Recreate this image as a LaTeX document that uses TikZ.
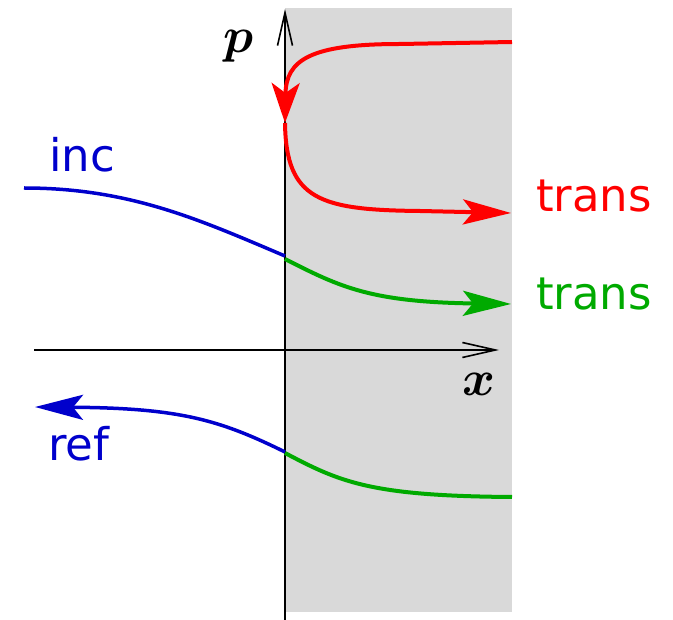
\RequirePackage{fix-cm}
\documentclass[tikz,border=0pt]{standalone}
\usepackage{fontspec}
\usepackage{amsmath,bm}
\newfontfamily\labfont{DejaVu Sans}
\usetikzlibrary{arrows.meta}
\definecolor{cblue}{RGB}{0,0,204}
\definecolor{cred}{RGB}{255,0,0}
\definecolor{cgreen}{RGB}{0,170,0}
\definecolor{cgray}{RGB}{217,217,217}
\begin{document}
\begin{tikzpicture}[x=1pt,y=-1pt,
  axisline/.style={line width=1.6pt,-{Straight Barb[length=33pt,width=15pt]}},
  curveline/.style={line width=4pt},
  blueline/.style={line width=3.5pt},
  headtip/.style={-{Stealth[length=48pt,width=25pt,inset=10pt]}},
  downtip/.style={-{Stealth[length=40pt,width=28pt,inset=10pt]}},
  lab/.style={font=\labfont\fontsize{45}{52}\selectfont,inner sep=0pt,anchor=base west},
  mathlab/.style={font=\fontsize{50}{60}\selectfont,inner sep=0pt}]
\useasboundingbox (0,0) rectangle (673,620);
\fill[cgray] (285,8) rectangle (512,612);
% axes
\coordinate (ybot) at (285,620);
\coordinate (ytop) at (285,9);
\coordinate (xleft) at (34,350);
\coordinate (xright) at (499,350);
\draw[axisline] (ybot) -- (ytop);
\draw[axisline] (xleft) -- (xright);
\node[mathlab] (plab) at (239,46) {$\bm{p}$};
\node[mathlab] (xlab) at (479,384) {$\bm{x}$};
% key points
\coordinate (incstart) at (24,188);
\coordinate (incend) at (285,256);
\coordinate (tr1start) at (285,259);
\coordinate (tr1end) at (511,304);
\coordinate (redstart) at (512,42);
\coordinate (redflat) at (400,44);
\coordinate (redturn) at (285,123);
\coordinate (redflat2) at (420,211);
\coordinate (redend) at (511,213);
\coordinate (refstart) at (285,452);
\coordinate (refend) at (35,407);
\coordinate (tr2start) at (285,453);
\coordinate (tr2end) at (512,497);
% curves
\draw[blueline,cblue] (incstart) .. controls (130,188) and (200,220) .. (incend);
\draw[curveline,cgreen,headtip] (tr1start) .. controls (340,287) and (370,302) .. (tr1end);
\draw[curveline,cred,downtip] (redstart) -- (redflat) .. controls (310,44) and (286,60) .. (redturn);
\draw[curveline,cred,headtip] (redturn) .. controls (286,200) and (320,210) .. (redflat2) -- (redend);
\draw[blueline,cblue,headtip] (refstart) .. controls (220,420) and (180,408) .. (refend);
\draw[curveline,cgreen] (tr2start) .. controls (340,482) and (370,496) .. (tr2end);
% labels
\node[lab,text=cblue] (inc) at (49,172) {inc};
\node[lab,text=cblue] (ref) at (48,461) {ref};
\node[lab,text=cred] (trans1) at (536,212) {trans};
\node[lab,text=cgreen] (trans2) at (536,310) {trans};
\end{tikzpicture}
\end{document}
